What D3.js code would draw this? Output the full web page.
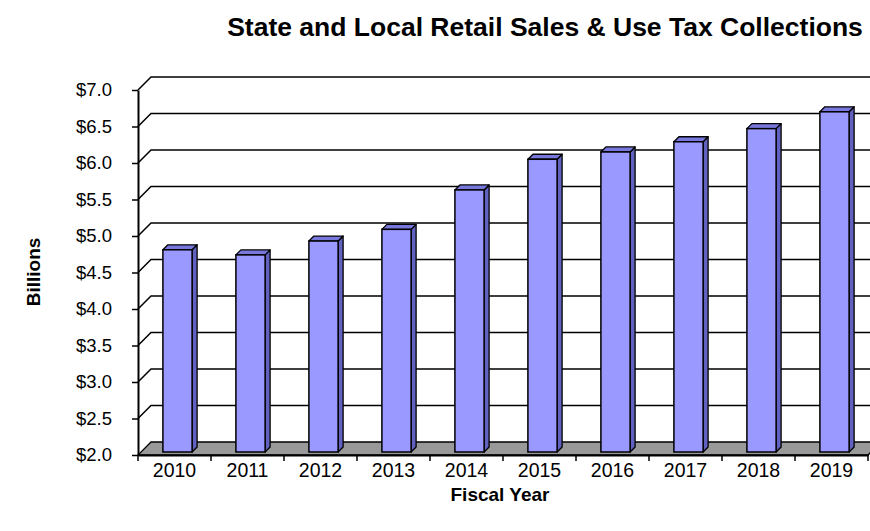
<!DOCTYPE html>
<html><head><meta charset="utf-8">
<script src="https://cdn.jsdelivr.net/npm/d3@7"></script>
<style>body{margin:0;background:#fff}text{font-family:"Liberation Sans",Arial,sans-serif;fill:#000}</style>
</head><body><svg id="c" width="870" height="531"></svg>
<script>
const years = ["2010","2011","2012","2013","2014","2015","2016","2017","2018","2019"];
const values = [4.77,4.70,4.89,5.05,5.59,6.01,6.11,6.25,6.43,6.66];
const yTicks = [2.0,2.5,3.0,3.5,4.0,4.5,5.0,5.5,6.0,6.5,7.0];
const yTickLabels = yTicks.map(v => "$" + v.toFixed(1));
const titleText = "State and Local Retail Sales & Use Tax Collections";
const xTitle = "Fiscal Year";
const yTitle = "Billions";

(function () {
const svg = d3.select("#c");
const pLeft = 138, pRight = 868, pTop = 90, pBottom = 455;
const depth = 13;          // wall/floor depth offset
const barShift = 3, barDepth = 5;

const x = d3.scaleBand().domain(years).range([pLeft, pRight]).padding(0);
const y = d3.scaleLinear().domain([2, 7]).range([pBottom, pTop]);
const bw = x.bandwidth();
const barW = bw * 0.4;

// floor
svg.append("path")
  .attr("d", `M${pLeft},${pBottom} L${pRight},${pBottom} L${pRight+depth},${pBottom-depth} L${pLeft+depth},${pBottom-depth} Z`)
  .attr("fill", "#999999").attr("stroke", "#000").attr("stroke-width", 1.3);

// gridlines (left wall diagonal + back wall horizontal)
svg.append("g").selectAll("path").data(yTicks.filter(v => v > 2)).join("path")
  .attr("d", v => `M${pLeft},${y(v)} L${pLeft+depth},${y(v)-depth} L${870},${y(v)-depth}`)
  .attr("fill", "none").attr("stroke", "#000").attr("stroke-width", 1.5);

// bars
const bars = svg.append("g").selectAll("g").data(years).join("g");
bars.each(function(yr, i) {
  const g = d3.select(this);
  const x0 = x(yr) + (bw - barW) / 2 + barShift;
  const x1 = x0 + barW;
  const yb = y(2) - barShift;
  const yt = y(values[i]) - barShift;
  const d = barDepth;
  g.append("path").attr("d", `M${x1},${yt} L${x1+d},${yt-d} L${x1+d},${yb-d} L${x1},${yb} Z`)
    .attr("fill", "#6161c0").attr("stroke", "#000").attr("stroke-width", 1.3).attr("stroke-linejoin", "round");
  g.append("path").attr("d", `M${x0},${yt} L${x0+d},${yt-d} L${x1+d},${yt-d} L${x1},${yt} Z`)
    .attr("fill", "#7878dc").attr("stroke", "#000").attr("stroke-width", 1.3).attr("stroke-linejoin", "round");
  g.append("rect").attr("x", x0).attr("y", yt).attr("width", barW).attr("height", yb - yt)
    .attr("fill", "#9999ff").attr("stroke", "#000").attr("stroke-width", 1.5);
});

// y axis
const yAxis = svg.append("g").attr("transform", `translate(${pLeft},0)`)
  .call(d3.axisLeft(y).tickValues(yTicks).tickFormat((d, i) => yTickLabels[i]).tickSize(6).tickSizeOuter(0).tickPadding(20));
yAxis.select(".domain").attr("stroke", "#000").attr("stroke-width", 2);
yAxis.selectAll(".tick line").attr("stroke", "#000").attr("stroke-width", 1.5);
yAxis.selectAll("text").attr("font-size", 18.5).attr("font-family", "'Liberation Sans',Arial,sans-serif").attr("fill", "#000");

// x axis
const xAxis = svg.append("g").attr("transform", `translate(0,${pBottom})`)
  .call(d3.axisBottom(x).tickSize(0).tickSizeOuter(0).tickPadding(8));
xAxis.select(".domain").attr("stroke", "#000").attr("stroke-width", 2);
xAxis.selectAll("text").attr("font-size", 19.5).attr("font-family", "'Liberation Sans',Arial,sans-serif").attr("fill", "#000");
const bounds = years.map(yr => x(yr)).concat([pRight]);
xAxis.selectAll(".btick").data(bounds).join("line").attr("class", "btick")
  .attr("x1", d => d).attr("x2", d => d).attr("y1", 0).attr("y2", 6)
  .attr("stroke", "#000").attr("stroke-width", 1.5);

// titles
svg.append("text").attr("x", 545).attr("y", 36).attr("text-anchor", "middle")
  .attr("font-size", 26.5).attr("font-weight", "bold").text(titleText);
svg.append("text").attr("x", 500).attr("y", 501).attr("text-anchor", "middle")
  .attr("font-size", 19).attr("font-weight", "bold").text(xTitle);
svg.append("text").attr("transform", "translate(40,272) rotate(-90)").attr("text-anchor", "middle")
  .attr("font-size", 19).attr("font-weight", "bold").text(yTitle);
})();
</script></body></html>
